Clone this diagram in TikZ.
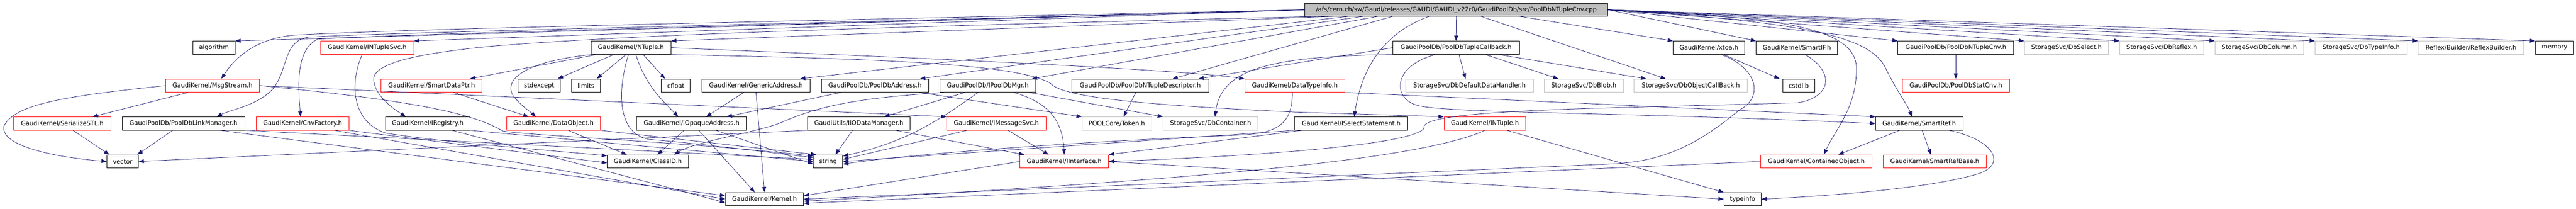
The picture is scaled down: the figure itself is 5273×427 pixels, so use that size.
\documentclass[tikz,border=0pt]{standalone}
\usepackage{fontspec}
\setmainfont{DejaVu Sans}
\usetikzlibrary{arrows.meta}
\definecolor{navyline}{HTML}{191970}
\definecolor{graybord}{HTML}{BFBFBF}
\definecolor{redbord}{HTML}{FF0000}
\begin{document}
\begin{tikzpicture}[x=1pt,y=-1pt,
  nb/.style={draw=black,line width=0.9pt,inner sep=0pt,minimum height=27pt,font=\fontsize{12.6}{14}\selectfont,text=black},
  nr/.style={nb,draw=redbord},
  ng/.style={nb,draw=graybord},
  ln/.style={draw=navyline,line width=0.8pt,-{Triangle[length=11pt,width=8pt]}}]
\useasboundingbox (0,0) rectangle (5273,427);
% row 0
\node[nb,fill=graybord,minimum height=26pt,minimum width=620pt] (R) at (2981,20) {/afs/cern.ch/sw/Gaudi/releases/GAUDI/GAUDI\_v22r0/GaudiPoolDb/src/PoolDbNTupleCnv.cpp};
% row 1
\node[nb,minimum width=86pt] (alg) at (438,97.5) {algorithm};
\node[nr,minimum width=191pt] (NS) at (751.5,97.5) {GaudiKernel/INTupleSvc.h};
\node[nb,minimum width=163pt] (NT) at (1291.5,97.5) {GaudiKernel/NTuple.h};
\node[nb,minimum width=259pt] (TC) at (2980.5,97.5) {GaudiPoolDb/PoolDbTupleCallback.h};
\node[nb,minimum width=146pt] (xtoa) at (3498,97.5) {GaudiKernel/xtoa.h};
\node[nb,minimum width=166pt] (SIF) at (3678,97.5) {GaudiKernel/SmartIF.h};
\node[nb,minimum width=237pt] (NC) at (4003.5,97.5) {GaudiPoolDb/PoolDbNTupleCnv.h};
\node[ng,minimum width=172pt] (DbSel) at (4230,97.5) {StorageSvc/DbSelect.h};
\node[ng,minimum width=172pt] (DbRef) at (4425,97.5) {StorageSvc/DbReflex.h};
\node[ng,minimum width=181pt] (DbCol) at (4624.5,97.5) {StorageSvc/DbColumn.h};
\node[ng,minimum width=188pt] (DbTI) at (4833,97.5) {StorageSvc/DbTypeInfo.h};
\node[ng,minimum width=216pt] (RB) at (5058,97.5) {Reflex/Builder/ReflexBuilder.h};
\node[nb,minimum width=78pt] (mem) at (5229,97.5) {memory};
% row 2
\node[nr,minimum width=192pt] (MS) at (435,175) {GaudiKernel/MsgStream.h};
\node[nr,minimum width=207pt] (SDP) at (883.5,175) {GaudiKernel/SmartDataPtr.h};
\node[nb,minimum width=87pt] (stdx) at (1103.5,175) {stdexcept};
\node[nb,minimum width=59pt] (lim) at (1199.5,175) {limits};
\node[nb,minimum width=59pt] (cfl) at (1383.5,175) {cfloat};
\node[nb,minimum width=221pt] (GA) at (1547.5,175) {GaudiKernel/GenericAddress.h};
\node[nb,minimum width=220pt] (PA) at (1791,175) {GaudiPoolDb/PoolDbAddress.h};
\node[nb,minimum width=196pt] (PM) at (2022,175) {GaudiPoolDb/IPoolDbMgr.h};
\node[nb,minimum width=280pt] (ND) at (2334,175) {GaudiPoolDb/PoolDbNTupleDescriptor.h};
\node[nr,minimum width=205pt] (DTI) at (2650.5,175) {GaudiKernel/DataTypeInfo.h};
\node[ng,minimum width=262pt] (DDH) at (3008,175) {StorageSvc/DbDefaultDataHandler.h};
\node[ng,minimum width=162pt] (Blob) at (3242,175) {StorageSvc/DbBlob.h};
\node[ng,minimum width=232pt] (OCB) at (3461,175) {StorageSvc/DbObjectCallBack.h};
\node[nb,minimum width=66pt] (cstd) at (3682,175) {cstdlib};
\node[nr,minimum width=219pt] (SC) at (4003.5,175) {GaudiPoolDb/PoolDbStatCnv.h};
% row 3
\node[nr,minimum width=199pt] (SSTL) at (127.5,252.5) {GaudiKernel/SerializeSTL.h};
\node[nb,minimum width=251pt] (PLM) at (375.5,252.5) {GaudiPoolDb/PoolDbLinkManager.h};
\node[nr,minimum width=189pt] (CF) at (619.5,252.5) {GaudiKernel/CnvFactory.h};
\node[nb,minimum width=173pt] (IR) at (875.5,252.5) {GaudiKernel/IRegistry.h};
\node[nr,minimum width=192pt] (DO) at (1133,252.5) {GaudiKernel/DataObject.h};
\node[nb,minimum width=225pt] (IOA) at (1415.5,252.5) {GaudiKernel/IOpaqueAddress.h};
\node[nb,minimum width=210pt] (IOD) at (1758,252.5) {GaudiUtils/IIODataManager.h};
\node[nr,minimum width=203pt] (IMS) at (2039.5,252.5) {GaudiKernel/IMessageSvc.h};
\node[ng,minimum width=142pt] (Tok) at (2286,252.5) {POOLCore/Token.h};
\node[ng,minimum width=194pt] (DbCont) at (2478,252.5) {StorageSvc/DbContainer.h};
\node[nb,minimum width=232pt] (SS) at (2766,252.5) {GaudiKernel/ISelectStatement.h};
\node[nr,minimum width=167pt] (IN) at (3039.5,252.5) {GaudiKernel/INTuple.h};
\node[nb,minimum width=179pt] (SR) at (3928.5,252.5) {GaudiKernel/SmartRef.h};
% row 4
\node[nb,minimum width=64pt] (vec) at (251,330) {vector};
\node[nb,minimum width=166pt] (CID) at (1326,330) {GaudiKernel/ClassID.h};
\node[nb,minimum width=60pt] (str) at (1695,330) {string};
\node[nr,minimum width=181pt] (II) at (2178.5,330) {GaudiKernel/IInterface.h};
\node[nr,minimum width=228pt] (CO) at (3718,330) {GaudiKernel/ContainedObject.h};
\node[nr,minimum width=211pt] (SRB) at (3960.5,330) {GaudiKernel/SmartRefBase.h};
% row 5
\node[nb,minimum width=160pt] (K) at (1565,407) {GaudiKernel/Kernel.h};
\node[nb,minimum width=76pt] (ti) at (3567,407) {typeinfo};

% ---- edges from root
\draw[ln] (R.west) -- (alg.north east);
\draw[ln] (R.west) -- (NS.north east);
\draw[ln] (R.west) .. controls (1500,45) and (800,60) .. (600,72) .. controls (520,80) and (480,120) .. ([xshift=18pt]MS.north);
\draw[ln] (R.west) .. controls (1500,52) and (800,66) .. (630,76) .. controls (580,85) and (590,140) .. (560,180) .. controls (530,215) and (470,225) .. ([xshift=68pt]PLM.north);
\draw[ln] (R.west) .. controls (1500,54) and (850,68) .. (650,80) .. controls (610,100) and (608,160) .. ([xshift=-4pt]CF.north);
\draw[ln] ([xshift=30pt]R.south west) .. controls (1800,55) and (1300,70) .. (1000,95) .. controls (850,110) and (760,130) .. (765,165) .. controls (770,200) and (810,225) .. ([xshift=-45pt]IR.north);
\draw[ln] ([xshift=60pt]R.south west) -- (NT.north east);
\draw[ln] ([xshift=90pt]R.south west) -- ([xshift=90pt]GA.north);
\draw[ln] ([xshift=120pt]R.south west) -- ([xshift=92pt]PA.north);
\draw[ln] ([xshift=150pt]R.south west) -- ([xshift=90pt]PM.north);
\draw[ln] ([xshift=180pt]R.south west) -- ([xshift=66pt]ND.north);
\draw[ln] (R.south) -- (TC.north);
\draw[ln] ([xshift=255pt]R.south west) .. controls (2850,60) and (2790,120) .. ([xshift=6pt]SS.north);
\draw[ln] ([xshift=-181pt]R.south east) -- (xtoa.north west);
\draw[ln] ([xshift=-260pt]R.south east) -- ([xshift=-51pt]OCB.north);
\draw[ln] (R.east) -- (SIF.north west);
\draw[ln] (R.east) -- (NC.north west);
\draw[ln] (R.east) -- (DbSel.north west);
\draw[ln] (R.east) -- (DbRef.north west);
\draw[ln] (R.east) -- (DbCol.north west);
\draw[ln] (R.east) -- (DbTI.north west);
\draw[ln] (R.east) -- (RB.north west);
\draw[ln] (R.east) -- (mem.north west);
\draw[ln] (R.east) .. controls (3620,35) and (3800,50) .. (3800,140) .. controls (3800,220) and (3760,260) .. ([xshift=15pt]CO.north);
\draw[ln] (R.east) .. controls (3700,45) and (3830,75) .. (3860,140) .. controls (3885,190) and (3905,215) .. ([xshift=-15pt]SR.north);
% ---- NTuple
\draw[ln] ([xshift=-70pt]NT.south) -- ([xshift=78pt]SDP.north);
\draw[ln] ([xshift=-80pt]NT.south) .. controls (1080,125) and (1030,160) .. (1050,195) .. controls (1065,215) and (1085,228) .. ([xshift=-36pt]DO.north);
\draw[ln] ([xshift=-35pt]NT.south) -- ([xshift=38pt]stdx.north);
\draw[ln] ([xshift=-10pt]NT.south) -- ([xshift=22pt]lim.north);
\draw[ln] ([xshift=25pt]NT.south) -- ([xshift=-22pt]cfl.north);
\draw[ln] ([xshift=10pt]NT.south) .. controls (1320,170) and (1350,200) .. ([xshift=-27pt]IOA.north);
\draw[ln] ([xshift=-5pt]NT.south) .. controls (1262,190) and (1265,275) .. (1330,285) .. controls (1450,295) and (1600,315) .. (str.165);
\draw[ln] (NT.east) .. controls (1800,115) and (2400,140) .. (DTI.north west);
\draw[ln] (NT.south east) .. controls (1800,120) and (2080,130) .. (2150,170) .. controls (2175,200) and (2350,215) .. (2650,229) -- (IN.north west);
% ---- MsgStream
\draw[ln] ([xshift=-50pt]MS.south) -- ([xshift=62pt]SSTL.north);
\draw[ln] (MS.west) .. controls (150,195) and (30,210) .. (8,258) .. controls (0,300) and (120,322) .. (vec.west);
\draw[ln] (MS.east) -- (IMS.north west);
\draw[ln] (MS.east) .. controls (900,210) and (980,240) .. (1030,268) .. controls (1100,278) and (1400,290) .. (str.160);
% ---- row 3 left
\draw[ln] ([xshift=22pt]SSTL.south) -- ([xshift=-27pt]vec.north);
\draw[ln] ([xshift=-22pt]PLM.south) -- ([xshift=30pt]vec.north);
\draw[ln] (PLM.south east) -- (str.172);
\draw[ln] ([xshift=75pt]PLM.south) -- (K.175);
\draw[ln] (IOD.south west) -- (vec.east);
\draw[ln] ([xshift=65pt]CF.south) -- (K.180);
\draw[ln] (CF.south east) -- (CID.182);
\draw[ln] ([xshift=-10pt]NS.south) .. controls (715,170) and (720,250) .. (790,272) .. controls (900,290) and (1100,305) .. (CID.172);
\draw[ln] ([xshift=50pt]IR.south) -- (K.185);
\draw[ln] (IR.south east) -- (str.180);
\draw[ln] ([xshift=45pt]SDP.south) -- ([xshift=-51pt]DO.north);
\draw[ln] ([xshift=30pt]DO.south) -- ([xshift=-43pt]CID.north);
\draw[ln] (DO.south east) -- (str.150);
\draw[ln] ([xshift=-15pt]IOA.south) -- ([xshift=20pt]CID.north);
\draw[ln] ([xshift=15pt]IOA.south) -- ([xshift=-20pt]K.north);
\draw[ln] ([xshift=50pt]IOA.south) -- (str.190);
\draw[ln] ([xshift=-25pt]GA.south) -- ([xshift=30pt]IOA.north);
\draw[ln] (GA.south) -- (K.north);
\draw[ln] ([xshift=-70pt]PA.south) -- ([xshift=72pt]IOA.north);
\draw[ln] ([xshift=90pt]PA.south) -- (Tok.north west);
% ---- IPoolDbMgr
\draw[ln] ([xshift=-47pt]PM.south) -- ([xshift=52pt]IOD.north);
\draw[ln] ([xshift=53pt]PM.south) .. controls (2150,210) and (2175,250) .. (II.north);
\draw[ln] ([xshift=-90pt]PM.south) .. controls (1760,200) and (1680,215) .. (1600,250) .. controls (1560,268) and (1420,290) .. ([xshift=54pt]CID.north);
\draw[ln] ([xshift=-20pt]PM.south) .. controls (1930,240) and (1860,290) .. (str.20);
\draw[ln] ([xshift=85pt]PM.south) -- (DbCont.north west);
\draw[ln] ([xshift=-13pt]IOD.south) -- ([xshift=15pt]str.north);
\draw[ln] ([xshift=75pt]IOD.south) -- ([xshift=-82pt]II.north);
\draw[ln] ([xshift=24pt]IMS.south) -- ([xshift=-32pt]II.north);
\draw[ln] ([xshift=-60pt]IMS.south) -- (str.8);
\draw[ln] (II.west) -- (K.5);
\draw[ln] (II.east) -- (ti.west);
\draw[ln] ([xshift=-9pt]ND.south) -- ([xshift=14pt]Tok.north);
% ---- tuple callback
\draw[ln] (TC.west) -- ([xshift=119pt]ND.north);
\draw[ln] (TC.south west) .. controls (2600,115) and (2500,140) .. ([xshift=9pt]DbCont.north);
\draw[ln] ([xshift=6pt]TC.south) -- ([xshift=-8pt]DDH.north);
\draw[ln] ([xshift=60pt]TC.south) -- ([xshift=-52pt]Blob.north);
\draw[ln] ([xshift=87pt]TC.south) -- ([xshift=-91pt]OCB.north);
\draw[ln] ([xshift=-42pt]TC.south) .. controls (2850,135) and (2850,200) .. (2900,215) .. controls (2960,232) and (3300,228) .. (SR.west);
% ---- DataTypeInfo, SelectStatement, INTuple
\draw[ln] ([xshift=-5pt]DTI.south) .. controls (2645,250) and (2620,272) .. (2540,276) .. controls (2300,285) and (1900,310) .. (str.-10);
\draw[ln] (DTI.south east) -- (SR.north west);
\draw[ln] ([xshift=-100pt]SS.south) -- (II.north east);
\draw[ln] (SS.south west) -- (str.0);
\draw[ln] ([xshift=45pt]IN.south) -- (ti.north west);
\draw[ln] (IN.south) .. controls (2900,330) and (2400,370) .. (K.-3);
% ---- xtoa, SmartIF
\draw[ln] ([xshift=30pt]xtoa.south) -- ([xshift=-39pt]cstd.north);
\draw[ln] ([xshift=25pt]xtoa.south) .. controls (3600,140) and (3610,200) .. (3560,225) .. controls (3470,300) and (3400,330) .. (3300,335) -- (K.0);
\draw[ln] ([xshift=17pt]SIF.south) .. controls (3760,150) and (3745,200) .. (3680,210) .. controls (3300,222) and (2900,222) .. (2915,262) .. controls (2890,300) and (2500,322) .. (II.east);
% ---- SmartRef, ContainedObject, NTupleCnv
\draw[ln] ([xshift=-40pt]SR.south) -- ([xshift=45pt]CO.north);
\draw[ln] ([xshift=6pt]SR.south) -- ([xshift=-8pt]SRB.north);
\draw[ln] ([xshift=61pt]SR.south) .. controls (4080,285) and (4110,335) .. (4050,355) .. controls (3950,385) and (3750,400) .. (ti.east);
\draw[ln] (CO.west) -- (K.-6);
\draw[ln] (NC.south) -- (SC.north);
\end{tikzpicture}
\end{document}
